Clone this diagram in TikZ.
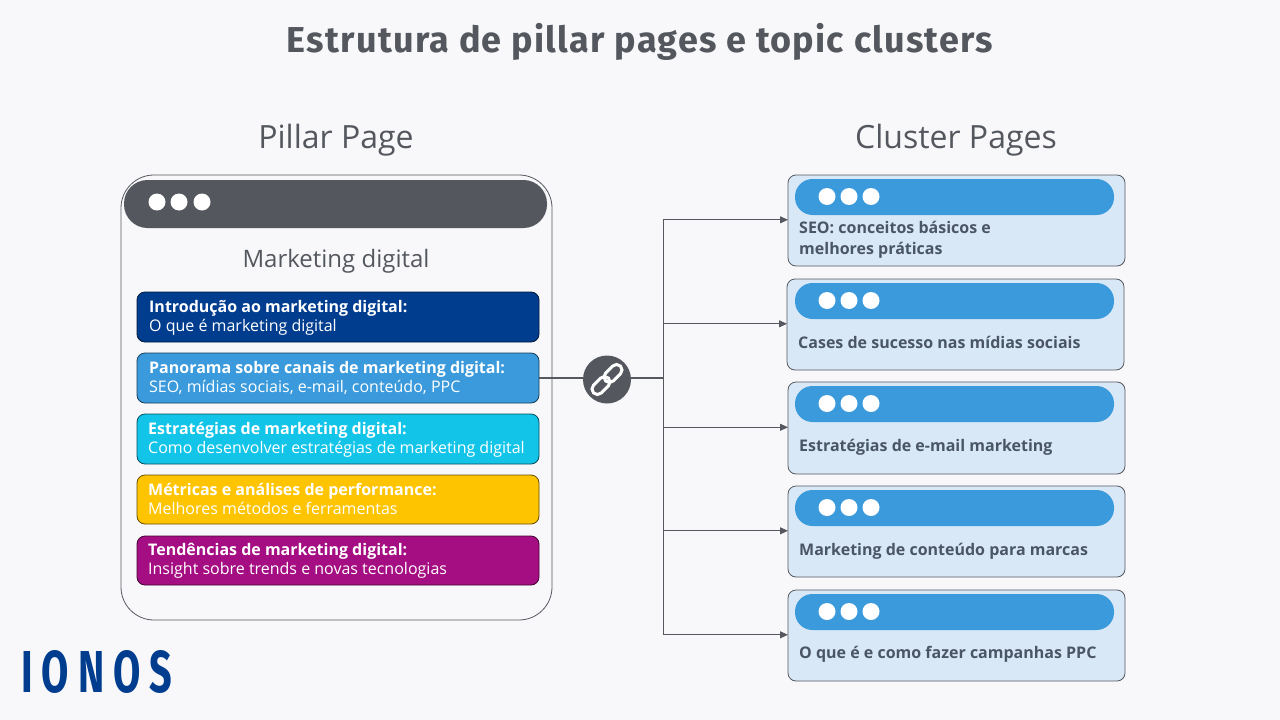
\documentclass[tikz,border=0pt]{standalone}
\usepackage{fontspec}
\usepackage{graphicx}
\setmainfont{Open Sans}
\newfontfamily\titlefont[LetterSpace=3.5]{Fira Sans}
\newfontfamily\logofont[LetterSpace=22]{Fira Sans}
\usetikzlibrary{arrows.meta}
\setlength{\lineskiplimit}{-20pt}
\definecolor{bgc}{HTML}{F8F8FB}
\definecolor{darkg}{HTML}{54585E}
\definecolor{lineg}{HTML}{55595F}
\definecolor{blu}{HTML}{3A9ADB}
\definecolor{clu}{HTML}{D9E8F7}
\definecolor{cltext}{HTML}{4A5663}
\definecolor{navy}{HTML}{003D8F}
\definecolor{cyanc}{HTML}{12C4E8}
\definecolor{yel}{HTML}{FFC400}
\definecolor{mag}{HTML}{A50D82}
\tikzset{
  x=1pt,y=-1pt,
  rowtext/.style={anchor=west,align=left,inner sep=0pt,text=white,font=\fontsize{16}{19}\selectfont},
  clustertext/.style={anchor=west,align=left,inner sep=0pt,text=cltext,font=\fontsize{16}{20.5}\selectfont\bfseries},
  heading/.style={inner sep=0pt,text=darkg,font=\fontsize{32}{36}\selectfont},
  dotc/.style={circle,fill=white,inner sep=0pt,minimum size=17pt},
  conn/.style={draw=lineg,line width=1pt},
  arr/.style={conn,-{Triangle[length=8pt,width=7pt]}},
  rowbox/.style={draw=black!60!#1,fill=#1,line width=0.8pt,rounded corners=8pt,minimum width=402pt,inner sep=0pt}
}
\newcommand{\cluster}[5]{%
  % name, left, top, bottom, pill top
  \fill[clu,draw=lineg,line width=0.8pt,rounded corners=8pt] (#2,#3) rectangle (#2+337,#4);
  \fill[blu,rounded corners=17.5pt] (795,#5) rectangle (1114,#5+36);
  \node[dotc] at (827,#5+17.5) {};
  \node[dotc] at (849,#5+17.5) {};
  \node[dotc] at (871,#5+17.5) {};
  \coordinate (#1) at (#2,{(#3+#4)/2-0.7});
}
\begin{document}
\begin{tikzpicture}
\useasboundingbox (0,0) rectangle (1280,720);
\fill[bgc] (0,0) rectangle (1280,720);
\node[inner sep=0pt,text=darkg,font=\titlefont\fontsize{36}{40}\selectfont\bfseries] (title) at (640,42) {Estrutura de pillar pages e topic clusters};
\node[heading] (hp) at (336,140) {Pillar Page};
\node[heading] (hc) at (956,140) {Cluster Pages};

% pillar window
\draw[draw=lineg,line width=0.8pt,fill=bgc,rounded corners=33pt] (121,175) rectangle (552,620);
\fill[darkg,rounded corners=23.5pt] (124,180) rectangle (547,228);
\node[dotc] at (157,202) {};
\node[dotc] at (179,202) {};
\node[dotc] at (202,202) {};
\node[inner sep=0pt,text=darkg,font=\fontsize{24}{28}\selectfont] (md) at (336,261) {Marketing digital};

% rows
\node[rowbox=navy,minimum height=50pt] (r1) at (338,317) {};
\node[rowbox=blu,minimum height=50pt] (r2) at (338,378) {};
\node[rowbox=cyanc,minimum height=50pt] (r3) at (338,439) {};
\node[rowbox=yel,minimum height=49pt] (r4) at (338,499.5) {};
\node[rowbox=mag,minimum height=49pt] (r5) at (338,560.5) {};
\node[rowtext] (t1) at (149,317.5) {\textbf{Introdução ao marketing digital:}\\O que é marketing digital};
\node[rowtext] (t2) at (149,377.5) {\textbf{Panorama sobre canais de marketing digital:}\\SEO, mídias sociais, e-mail, conteúdo, PPC};
\node[rowtext] (t3) at (148,439.5) {\textbf{Estratégias de marketing digital:}\\Como desenvolver estratégias de marketing digital};
\node[rowtext] (t4) at (148,498.5) {\textbf{Métricas e análises de performance:}\\Melhores métodos e ferramentas};
\node[rowtext] (t5) at (148,560.5) {\textbf{Tendências de marketing digital:}\\Insight sobre trends e novas tecnologias};

% clusters
\cluster{c1}{788}{175}{266}{179}
\cluster{c2}{787}{279}{370}{283}
\cluster{c3}{788}{382}{474}{386}
\cluster{c4}{788}{486}{577}{490}
\cluster{c5}{788}{590}{681}{594}
\node[clustertext] (ct1) at (799,240) {SEO: conceitos básicos e\\melhores práticas};
\node[clustertext] (ct2) at (798,342.5) {Cases de sucesso nas mídias sociais};
\node[clustertext] (ct3) at (799,447.5) {Estratégias de e-mail marketing};
\node[clustertext] (ct4) at (799,551) {Marketing de conteúdo para marcas};
\node[clustertext] (ct5) at (799,654) {O que é e como fazer campanhas PPC};

% connectors
\coordinate (trunk) at (663,378);
\node[circle,fill=darkg,inner sep=0pt,minimum size=48pt] (link) at (607,379.5) {};
\draw[conn,line width=1.6pt] (r2.east) -- (link.west |- r2.east);
\draw[conn,line width=1.6pt] (link.east |- r2.east) -- (trunk);
\draw[arr] (trunk) |- (c1);
\draw[arr] (trunk) |- (c2);
\draw[arr] (trunk) |- (c3);
\draw[arr] (trunk) |- (c4);
\draw[arr] (trunk) |- (c5);
% link icon
\begin{scope}[shift={(link.center)},rotate=45]
  \draw[white,line width=3pt,rounded corners=5.5pt] (-19,-5.5) rectangle (2,5.5);
  \draw[white,line width=3pt,rounded corners=5.5pt] (-2,-5.5) rectangle (19,5.5);
\end{scope}

% logo
\node[inner sep=0pt,anchor=west,text=navy] (logo) at (21.5,671.5) {\resizebox{150pt}{42pt}{\logofont\bfseries IONOS}};
\end{tikzpicture}
\end{document}
